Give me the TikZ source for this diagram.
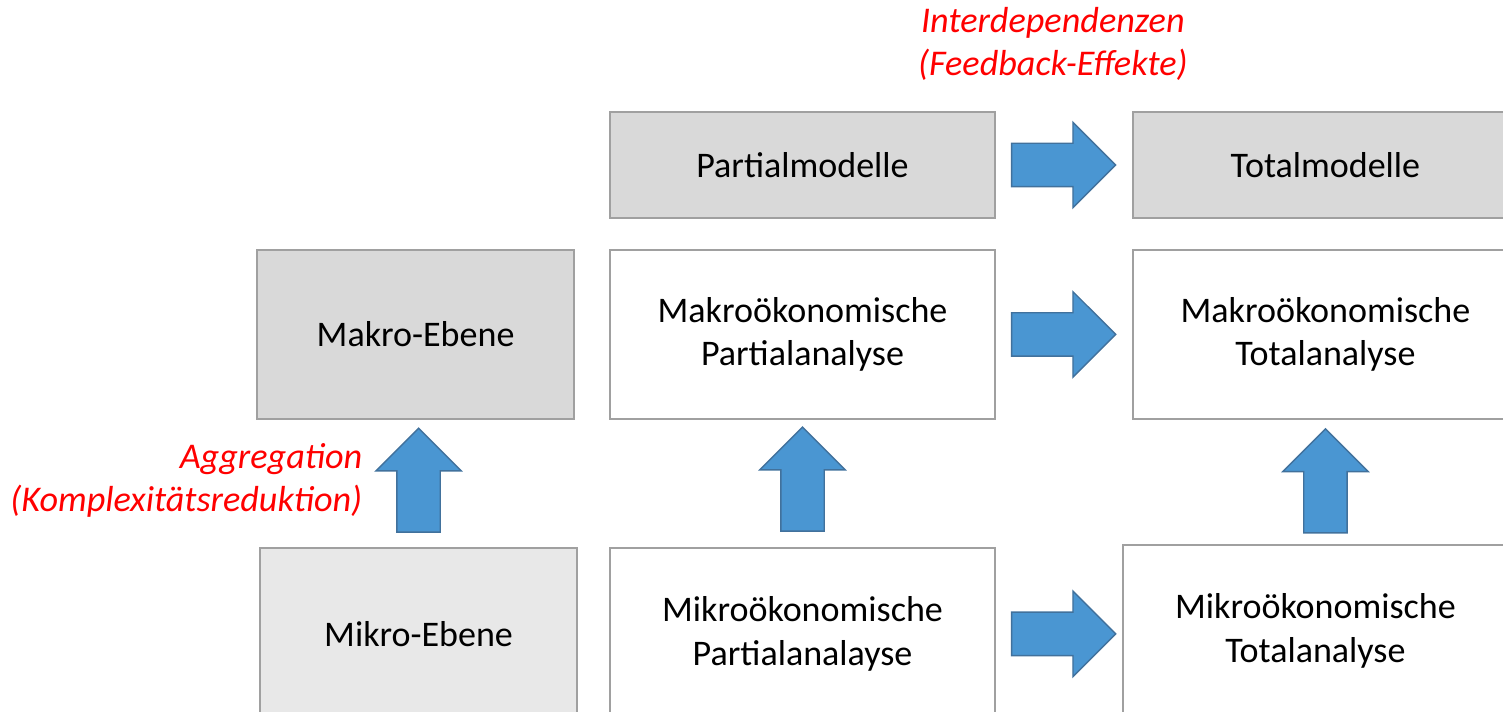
\documentclass[tikz,border=0pt]{standalone}
\usepackage{fontspec}
\setmainfont{Carlito}
\usetikzlibrary{positioning,shapes.arrows}
\definecolor{boxgray}{HTML}{D9D9D9}
\definecolor{lightgray}{HTML}{E8E8E8}
\definecolor{edgegray}{HTML}{A0A0A0}
\definecolor{arrowblue}{HTML}{4A96D2}
\definecolor{arrowedge}{HTML}{41719C}

\begin{document}
\begin{tikzpicture}[
  font=\fontsize{20.5}{24.5}\selectfont,
  box/.style={draw=edgegray, line width=1.1pt, align=center, inner sep=0pt},
  blockarrow/.style={single arrow, draw=arrowedge, fill=arrowblue, line width=0.8pt,
    minimum height=2.08cm, minimum width=1.68cm, single arrow head extend=0.42cm, inner sep=0.42cm},
  note/.style={text=red, font=\fontsize{20.6}{24.5}\selectfont\itshape, inner sep=0pt}
]
\useasboundingbox (0,0) rectangle (30.06,-14.24);
\clip (0,0) rectangle (30.06,-14.24);

\node [box, fill=boxgray, minimum width=7.7cm, minimum height=2.12cm] (pm) at (16.05,-3.30) {Partialmodelle};
\node [box, fill=boxgray, minimum width=7.7cm, minimum height=2.12cm, right=2.72cm of pm] (tm) {Totalmodelle};
\node [box, fill=white, minimum width=7.7cm, minimum height=3.38cm, below=0.6cm of pm] (map) {Makroökonomische\\Partialanalyse};
\node [box, fill=white, minimum width=7.7cm, minimum height=3.38cm, right=2.72cm of map] (mat) {Makroökonomische\\Totalanalyse};
\node [box, fill=boxgray, minimum width=6.34cm, minimum height=3.38cm, left=0.68cm of map] (mae) {Makro-Ebene};
\node [box, fill=white, minimum width=7.7cm, minimum height=3.44cm, below=2.54cm of map] (mip) {Mikroökonomische\\Partialanalayse};
\node [box, fill=lightgray, minimum width=6.34cm, minimum height=3.44cm, left=0.62cm of mip] (mie) {Mikro-Ebene};
\node [box, fill=white, minimum width=7.7cm, minimum height=3.44cm, right=2.52cm of mip, yshift=0.06cm] (mit) {Mikroökonomische\\Totalanalyse};

\node [blockarrow, right=0.3cm of pm, anchor=tail] (a1) {};
\node [blockarrow, right=0.3cm of map, anchor=tail] (a2) {};
\node [blockarrow, right=0.3cm of mip, anchor=tail] (a3) {};
\node [blockarrow, shape border rotate=90, above=0.28cm of mie, anchor=tail] (u1) {};
\node [blockarrow, shape border rotate=90, above=0.3cm of mip, anchor=tail] (u2) {};
\node [blockarrow, shape border rotate=90, below=0.16cm of mat, anchor=tip] (u3) {};

\node [note, align=center, above=2.42cm of a1.center, anchor=center] (inter) {Interdependenzen\\(Feedback-Effekte)};
\node [note, align=right, left=1.12cm of u1.center, yshift=0.22cm] (aggr) {Aggregation\\(Komplexitätsreduktion)};
\end{tikzpicture}
\end{document}
